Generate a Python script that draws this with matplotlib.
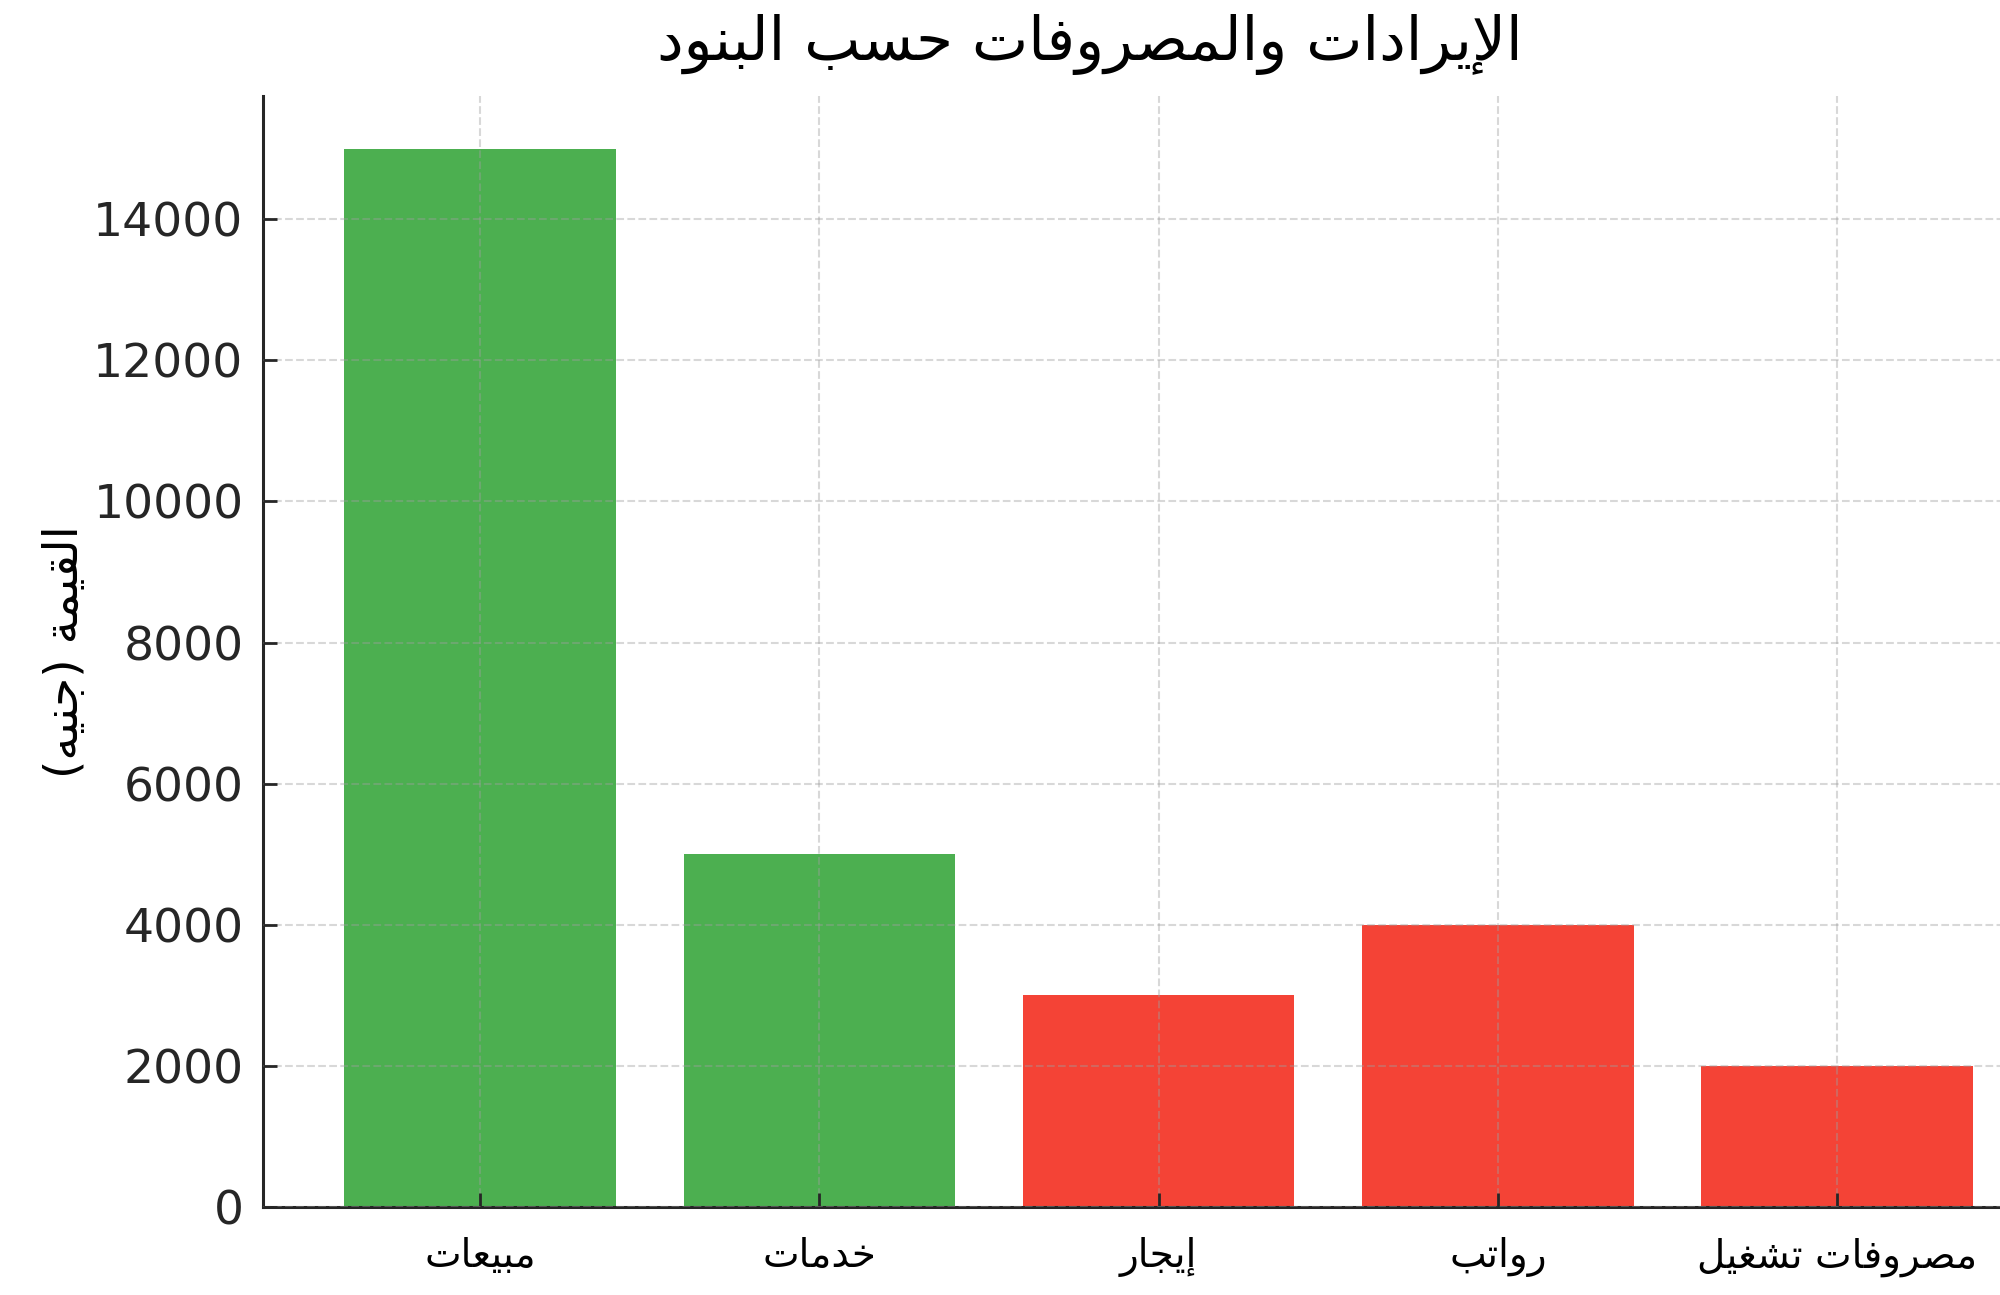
import unicodedata
import matplotlib
matplotlib.use("Agg")
import matplotlib.pyplot as plt

# Data
categories = ["مبيعات", "خدمات", "إيجار", "رواتب", "مصروفات تشغيل"]
values = [15000, 5000, 3000, 4000, 2000]
kinds = ["revenue", "revenue", "expense", "expense", "expense"]
yticks = [0, 2000, 4000, 6000, 8000, 10000, 12000, 14000]
title = "الإيرادات والمصروفات حسب البنود"
ylabel = "القيمة (جنيه)"

colors = {"revenue": "#4CAF50", "expense": "#F44336"}


def _form(ch, form):
    try:
        return unicodedata.lookup(unicodedata.name(ch) + " " + form + " FORM")
    except (KeyError, ValueError):
        return None


def _ligature(name, form):
    try:
        return unicodedata.lookup("ARABIC LIGATURE " + name + " " + form + " FORM")
    except KeyError:
        return None


def shape(text):
    # minimal arabic shaping + visual reordering, matplotlib 3.10 has none
    lam_alef = {"\u0627": "LAM WITH ALEF", "\u0625": "LAM WITH ALEF WITH HAMZA BELOW",
                "\u0623": "LAM WITH ALEF WITH HAMZA ABOVE", "\u0622": "LAM WITH ALEF WITH MADDA ABOVE"}
    tokens = []
    i = 0
    while i < len(text):
        c = text[i]
        if c == "\u0644" and i + 1 < len(text) and text[i + 1] in lam_alef:
            nm = lam_alef[text[i + 1]]
            tokens.append({"iso": _ligature(nm, "ISOLATED"), "fin": _ligature(nm, "FINAL"),
                           "ini": None, "med": None, "ar": True})
            i += 2
            continue
        iso = _form(c, "ISOLATED")
        if iso is None:
            tokens.append({"iso": c, "ar": False})
        else:
            tokens.append({"iso": iso, "fin": _form(c, "FINAL"), "ini": _form(c, "INITIAL"),
                           "med": _form(c, "MEDIAL"), "ar": True})
        i += 1
    out = []
    for k, t in enumerate(tokens):
        if not t["ar"]:
            out.append(t["iso"])
            continue
        prev = tokens[k - 1] if k > 0 else None
        nxt = tokens[k + 1] if k + 1 < len(tokens) else None
        jp = prev is not None and prev["ar"] and prev["ini"] is not None
        jn = nxt is not None and nxt["ar"] and t["ini"] is not None
        if jp and jn:
            out.append(t["med"])
        elif jp:
            out.append(t["fin"])
        elif jn:
            out.append(t["ini"])
        else:
            out.append(t["iso"])
    vis = "".join(reversed(out))
    return vis.translate(str.maketrans("()", ")("))


plt.rcParams["font.family"] = ["DejaVu Sans"]

fig = plt.figure(figsize=(20, 12.95), dpi=100)
ax = fig.add_axes([0.1315, 0.068, 0.8685, 0.858])

x = list(range(len(categories)))
ax.bar(x, values, width=0.8, color=[colors[k] for k in kinds], zorder=1)

ax.set_xlim(-0.64, 4.48)
ax.set_ylim(0, 15750)
ax.set_yticks(yticks)
ax.set_xticks(x)
ax.set_xticklabels([shape(c) for c in categories], fontsize=28, color="black")

ax.spines["top"].set_visible(False)
ax.spines["right"].set_visible(False)
for s in ("left", "bottom"):
    ax.spines[s].set_linewidth(2.2)
    ax.spines[s].set_color("#262626")

ax.tick_params(axis="y", direction="in", length=10, width=2, colors="#262626",
               labelsize=34, pad=14)
ax.tick_params(axis="x", direction="in", length=10, width=2, colors="#262626",
               pad=22)
for lab in ax.get_xticklabels():
    lab.set_color("black")

ax.set_axisbelow(False)
ax.grid(True, linestyle="--", color="#9e9e9e", alpha=0.4, linewidth=1.5, zorder=2)

ax.set_ylabel(shape(ylabel), fontsize=34, color="black", labelpad=4)
fig.text(0.545, 0.966, shape(title), fontsize=43, ha="center", va="center", color="black")

fig.savefig("out.png", dpi=100, facecolor="white")
